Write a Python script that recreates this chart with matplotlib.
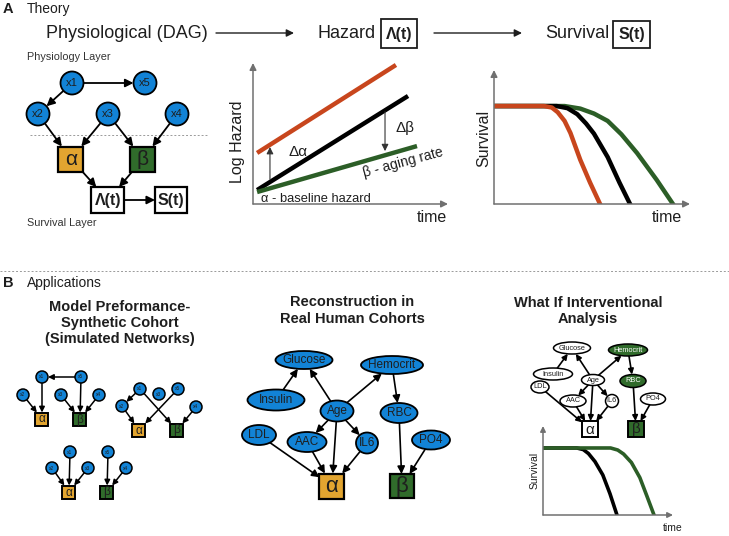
import numpy as np
import matplotlib
matplotlib.use('Agg')
import matplotlib.pyplot as plt
from matplotlib.patches import Circle, Ellipse, Rectangle, FancyArrowPatch

plt.rcParams['font.family'] = ['Liberation Sans', 'DejaVu Sans']

BLUE = '#1283d6'
ORANGE = '#e2a530'
GREEN = '#306b2b'
RED = '#c8461d'
LINE_GREEN = '#2c5e27'
GRAY = '#707070'
INK = '#1e1e1e'

# ---------------- data ----------------
# A: hazard lines (time, log hazard)
haz_red_t = [0.21, 7.33]
haz_red = [3.62, 9.86]
haz_black_t = [0.21, 7.95]
haz_black = [0.99, 7.66]
haz_green_t = [0.21, 8.41]
haz_green = [0.85, 4.11]

# A: survival curves (time, survival)
surv_red_t = [0, 2.55, 2.95, 3.25, 3.6, 3.9, 4.4, 4.9, 5.41]
surv_red = [7.31, 7.31, 7.2, 6.85, 6.2, 5.3, 3.3, 1.6, 0]
surv_black_t = [0, 3.2, 3.75, 4.25, 4.7, 5.1, 5.8, 6.4, 6.94]
surv_black = [7.31, 7.31, 7.15, 6.7, 6.0, 5.25, 3.5, 1.6, 0]
surv_green_t = [0, 3.6, 4.4, 5.1, 5.8, 6.5, 7.3, 8.3, 9.13]
surv_green = [7.31, 7.31, 7.12, 6.75, 6.2, 5.2, 3.8, 1.8, 0]

# B: what-if survival curves
wi_black_t = [0, 2.6, 3.1, 3.5, 4.0, 4.6, 5.15, 5.69]
wi_black = [7.53, 7.53, 7.35, 6.9, 6.0, 4.5, 2.4, 0]
wi_green_t = [0, 5.2, 5.75, 6.2, 6.8, 7.45, 8.0, 8.54]
wi_green = [7.53, 7.53, 7.3, 6.85, 5.9, 4.2, 2.1, 0]

# A: theory DAG
dag_vars = ['x1', 'x5', 'x2', 'x3', 'x4']
dag_edges = [('x1', 'x5'), ('x1', 'x2'), ('x2', 'a'), ('x3', 'a'), ('x3', 'b'),
             ('x4', 'b'), ('a', 'lam'), ('b', 'lam'), ('lam', 'S')]

# B: simulated networks
sim_edges_1 = [('x5', 'x1'), ('x1', 'a'), ('x2', 'a'), ('x5', 'b'), ('x3', 'b'), ('x4', 'b')]
sim_edges_2 = [('x1', 'x2'), ('x2', 'a'), ('x5', 'a'), ('x1', 'b'), ('x4', 'b')]
sim_edges_3 = [('x1', 'a'), ('x2', 'a'), ('x3', 'a'), ('x5', 'b'), ('x4', 'b')]

# B: human cohort network
human_vars = ['Glucose', 'Hemocrit', 'Insulin', 'Age', 'RBC', 'LDL', 'AAC', 'IL6', 'PO4']
human_edges = [('Insulin', 'Glucose'), ('Age', 'Glucose'), ('Age', 'Hemocrit'),
               ('Hemocrit', 'RBC'), ('Age', 'AAC'), ('Age', 'IL6'), ('Age', 'a'),
               ('AAC', 'a'), ('IL6', 'a'), ('LDL', 'a'), ('RBC', 'b'), ('PO4', 'b')]
intervened = ['Hemocrit', 'RBC', 'b']

# ---------------- figure ----------------
W, H = 729, 536
fig = plt.figure(figsize=(W / 100, H / 100), dpi=100)
ax = fig.add_axes([0, 0, 1, 1])
ax.set_xlim(0, W)
ax.set_ylim(H, 0)
ax.axis('off')


def edge_point(node, tx, ty):
    kind, x, y, w, h = node[:5]
    dx, dy = tx - x, ty - y
    d = np.hypot(dx, dy)
    ux, uy = dx / d, dy / d
    a, b = w / 2, h / 2
    if kind == 'box':
        t = min(a / abs(ux) if ux else 1e9, b / abs(uy) if uy else 1e9)
    else:
        t = 1 / np.sqrt((ux / a) ** 2 + (uy / b) ** 2)
    return x + ux * t, y + uy * t


def draw_graph(nodes, edges, lw, ms, elw):
    for s, e in edges:
        ns, ne = nodes[s], nodes[e]
        p0 = edge_point(ns, ne[1], ne[2])
        p1 = edge_point(ne, ns[1], ns[2])
        ax.add_patch(FancyArrowPatch(p0, p1, arrowstyle='-|>', mutation_scale=ms,
                                     lw=lw, color='black', shrinkA=0, shrinkB=0,
                                     zorder=2))
    for name, (kind, x, y, w, h, label, fc, fs, bold) in nodes.items():
        if kind == 'box':
            p = Rectangle((x - w / 2, y - h / 2), w, h, fc=fc, ec='black', lw=elw + 0.3)
        else:
            p = Ellipse((x, y), w, h, fc=fc, ec='black', lw=elw)
        p.set_zorder(3)
        ax.add_patch(p)
        tc = 'white' if fc == GREEN and kind != 'box' else INK
        ax.text(x, y + (0.5 if kind == 'box' else 0), label, fontsize=fs, ha='center',
                va='center', color=tc, fontweight='bold' if bold else 'normal', zorder=4)


# ---- panel A headings ----
ax.text(3, 9, 'A', fontsize=10.5, fontweight='bold', va='center', color=INK)
ax.text(27, 9, 'Theory', fontsize=10, va='center', color=INK)
ax.text(127, 33, 'Physiological (DAG)', fontsize=13, ha='center', va='center', color=INK)
ax.text(318, 33, 'Hazard', fontsize=13, ha='left', va='center', color=INK)
ax.text(545, 34, 'Survival', fontsize=13, ha='left', va='center', color=INK)
ax.add_patch(Rectangle((381, 19), 36, 29, fc='white', ec=INK, lw=1.3))
ax.text(399, 34, 'Λ(t)', fontsize=11.5, fontweight='bold', ha='center', va='center', color=INK)
ax.add_patch(Rectangle((613, 21), 37, 27, fc='white', ec=INK, lw=1.3))
ax.text(631.5, 34.5, 'S(t)', fontsize=11.5, fontweight='bold', ha='center', va='center', color=INK)
for x0, x1 in [(216, 294), (434, 522)]:
    ax.add_patch(FancyArrowPatch((x0, 33), (x1, 33), arrowstyle='-|>', mutation_scale=11,
                                 lw=1.0, color=INK, shrinkA=0, shrinkB=0))

# ---- A: DAG ----
ax.text(27, 57, 'Physiology Layer', fontsize=7.8, va='center', color='#333333')
ax.text(27, 223, 'Survival Layer', fontsize=7.8, va='center', color='#333333')
ax.plot([30, 207], [135, 135], ls=(0, (2, 2)), lw=0.7, color='#9a9a9a')
dag_pos = {'x1': (72, 83), 'x5': (145, 83), 'x2': (38, 114), 'x3': (108, 114), 'x4': (177, 114)}
dag_nodes = {v: ('circle', *dag_pos[v], 23, 23, v, BLUE, 8, False) for v in dag_vars}
dag_nodes['a'] = ('box', 71, 159, 25, 25, 'α', ORANGE, 15, False)
dag_nodes['b'] = ('box', 143, 159, 25, 25, 'β', GREEN, 15, False)
dag_nodes['lam'] = ('box', 108, 200, 33, 26, 'Λ(t)', 'white', 11.5, True)
dag_nodes['S'] = ('box', 171, 200, 32, 26, 'S(t)', 'white', 11.5, True)
draw_graph(dag_nodes, dag_edges, lw=1.3, ms=12, elw=1.3)


# ---- inset axes helper ----
def inset(x0, y0, x1, y1, xmax=10, ymax=10, ms=10):
    a = fig.add_axes([x0 / W, 1 - y1 / H, (x1 - x0) / W, (y1 - y0) / H])
    a.set_xlim(0, xmax)
    a.set_ylim(0, ymax)
    a.patch.set_alpha(0)
    for s in a.spines.values():
        s.set_visible(False)
    a.set_xticks([])
    a.set_yticks([])
    for xy in [(1, 0), (0, 1)]:
        a.annotate('', xy=xy, xytext=(0, 0), xycoords='axes fraction',
                   arrowprops=dict(arrowstyle='-|>', color=GRAY, lw=1.1,
                                   mutation_scale=ms, shrinkA=0, shrinkB=0))
    return a


# ---- A: hazard ----
hz = inset(253, 63, 448, 204)
hz.plot(haz_red_t, haz_red, color=RED, lw=3.2, solid_capstyle='butt')
hz.plot(haz_black_t, haz_black, color='black', lw=3.2, solid_capstyle='butt')
hz.plot(haz_green_t, haz_green, color=LINE_GREEN, lw=3.2, solid_capstyle='butt')
hz.annotate('', xy=(0.87, 4.04), xytext=(0.87, 1.75),
            arrowprops=dict(arrowstyle='-|>', color='#333333', lw=0.8, mutation_scale=10,
                            shrinkA=0, shrinkB=0))
hz.annotate('', xy=(6.77, 3.75), xytext=(6.77, 6.55),
            arrowprops=dict(arrowstyle='-|>', color='#333333', lw=0.8, mutation_scale=10,
                            shrinkA=0, shrinkB=0))
hz.text(1.8, 3.7, 'Δα', fontsize=11, va='center', color=INK)
hz.text(7.3, 5.4, 'Δβ', fontsize=11, va='center', color=INK)
hz.text(7.7, 2.95, 'β - aging rate', fontsize=10, ha='center', va='center',
        rotation=15, color=INK)
hz.text(0.4, 0.35, 'α - baseline hazard', fontsize=9.3, ha='left', va='center', color=INK)
ax.text(432, 217, 'time', fontsize=11.5, ha='center', va='center', color=INK)
ax.text(238, 142, 'Log Hazard', fontsize=11.5, ha='center', va='center', rotation=90,
        color=INK)

# ---- A: survival ----
sv = inset(494, 70, 690, 204)
sv.plot(surv_green_t, surv_green, color=LINE_GREEN, lw=3.2, solid_joinstyle='round')
sv.plot(surv_black_t, surv_black, color='black', lw=3.2, solid_joinstyle='round')
sv.plot(surv_red_t, surv_red, color=RED, lw=3.2, solid_joinstyle='round')
ax.text(667, 217, 'time', fontsize=11.5, ha='center', va='center', color=INK)
ax.text(484, 138, 'Survival', fontsize=11.5, ha='center', va='center', rotation=90,
        color=INK)

# ---- separator ----
ax.plot([0, W], [271, 271], ls=(0, (2, 2)), lw=0.7, color='#9a9a9a')

# ---- panel B headings ----
ax.text(3, 283, 'B', fontsize=10.5, fontweight='bold', va='center', color=INK)
ax.text(27, 283, 'Applications', fontsize=10, va='center', color=INK)
ax.text(120, 323, 'Model Preformance-\nSynthetic Cohort\n(Simulated Networks)', fontsize=10.5,
        fontweight='bold', ha='center', va='center', linespacing=1.2, color=INK)
ax.text(352, 310.5, 'Reconstruction in\nReal Human Cohorts', fontsize=10.5,
        fontweight='bold', ha='center', va='center', linespacing=1.2, color=INK)
ax.text(588, 311, 'What If Interventional\nAnalysis', fontsize=10.5,
        fontweight='bold', ha='center', va='center', linespacing=1.2, color=INK)

# ---- B: simulated networks ----
sim_layouts = [
    ({'x1': (42, 377), 'x5': (81, 377), 'x2': (23, 395), 'x3': (61, 395), 'x4': (99, 395)},
     (42, 419), (80, 419), sim_edges_1),
    ({'x1': (140, 389), 'x3': (159, 394), 'x5': (178, 389), 'x2': (122, 406), 'x4': (196, 407)},
     (139, 430), (177, 430), sim_edges_2),
    ({'x1': (70, 452), 'x5': (108, 452), 'x2': (52, 468), 'x3': (88, 468), 'x4': (126, 468)},
     (69, 492), (107, 492), sim_edges_3),
]
for pos, pa, pb, edges in sim_layouts:
    nodes = {v: ('circle', *pos[v], 12, 12, v, BLUE, 3.5, False) for v in pos}
    nodes['a'] = ('box', *pa, 13, 13, 'α', ORANGE, 8.5, False)
    nodes['b'] = ('box', *pb, 13, 13, 'β', GREEN, 8.5, False)
    draw_graph(nodes, edges, lw=1.1, ms=8, elw=1.1)

# ---- B: human cohort ----
hum_geom = {'Glucose': (304, 360, 57, 18), 'Hemocrit': (392, 365, 62, 18),
            'Insulin': (276, 400, 57, 21), 'Age': (337, 411, 33, 21),
            'RBC': (399, 413, 37, 20), 'LDL': (259, 435, 34, 20),
            'AAC': (307, 442, 39, 20), 'IL6': (367, 443, 22, 21), 'PO4': (431, 440, 38, 19)}
hum_nodes = {v: ('ellipse', *hum_geom[v], v, BLUE, 8.5, False) for v in human_vars}
hum_nodes['a'] = ('box', 332, 486, 25, 25, 'α', ORANGE, 16, False)
hum_nodes['b'] = ('box', 402, 486, 24, 24, 'β', GREEN, 16, False)
draw_graph(hum_nodes, human_edges, lw=1.2, ms=11, elw=1.3)

# ---- B: what-if network ----
wi_geom = {'Glucose': (572, 348, 37, 12), 'Hemocrit': (628, 350, 39, 12),
           'Insulin': (553, 374, 39, 12), 'Age': (593, 380, 23, 11),
           'RBC': (633, 381, 26, 13), 'LDL': (540, 387, 18, 12),
           'AAC': (573, 401, 26, 12), 'IL6': (612, 401, 13, 13), 'PO4': (653, 399, 25, 12)}
wi_nodes = {v: ('ellipse', *wi_geom[v], v, GREEN if v in intervened else 'white', 5.3, False)
            for v in human_vars}
wi_nodes['a'] = ('box', 590, 429, 16, 16, 'α', 'white', 11, False)
wi_nodes['b'] = ('box', 636, 429, 16, 16, 'β', GREEN, 11, False)
draw_graph(wi_nodes, human_edges, lw=1.2, ms=8, elw=1.1)

wi = inset(543, 426, 673, 515, ms=8)
wi.plot(wi_black_t, wi_black, color='black', lw=2.6, solid_joinstyle='round')
wi.plot(wi_green_t, wi_green, color=LINE_GREEN, lw=2.6, solid_joinstyle='round')
ax.text(673, 528, 'time', fontsize=7.5, ha='center', va='center', color=INK)
ax.text(535, 470, 'Survival', fontsize=7.5, ha='center', va='center', rotation=90, color=INK)

fig.savefig('out.png', dpi=100)
